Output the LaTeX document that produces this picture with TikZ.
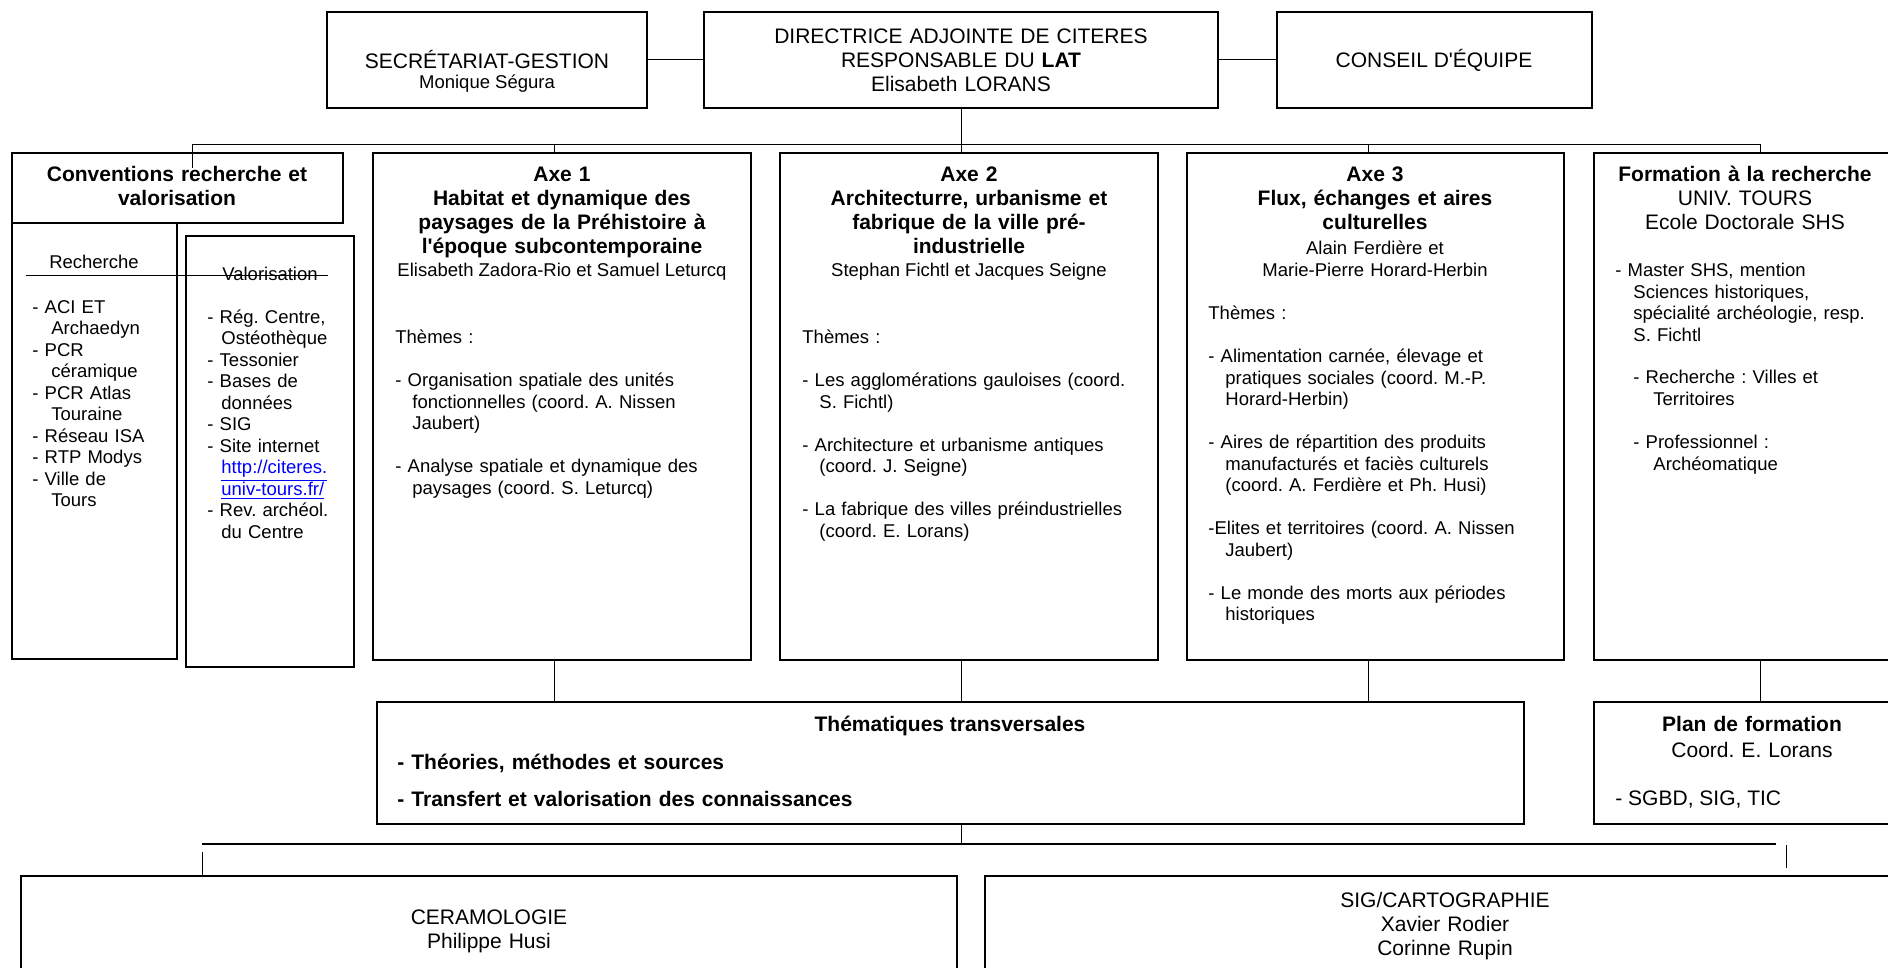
\documentclass[tikz,border=0pt]{standalone}
\usepackage{fontspec}
\setmainfont{Liberation Sans}
\usetikzlibrary{positioning,fit,calc}
\tikzset{
  box/.style={draw, line width=0.75pt, inner sep=0pt},
  link/.style={draw, line width=0.5pt},
  lowbus/.style={draw, line width=1pt},
  big/.style={font=\fontsize{10.5}{12}\selectfont, inner sep=0pt},
  bigb/.style={font=\fontsize{10.5}{12}\selectfont\bfseries, inner sep=0pt},
  small/.style={font=\fontsize{9.25}{10.75}\selectfont, inner sep=0pt},
  lines/.style={text width=200pt, align=left, anchor=base west},
  clines/.style={text width=300pt, align=center, anchor=base},
}
\newcommand{\ind}{\hspace*{8.5pt}}
\newcommand{\apos}{\textquotesingle}
\frenchspacing

\begin{document}
\begin{tikzpicture}[x=0.5pt,y=-0.5pt]
\useasboundingbox (0,0) rectangle (1888,968);
\clip (0,0) rectangle (1888,968);

% direction
\node[box, fit={(327,12) (647,108)}] (sec) {};
\node[box, fit={(704,12) (1218,108)}] (dir) {};
\node[box, fit={(1277,12) (1592,108)}] (conseil) {};
\node[big, anchor=base] (sect) at (487,69) {SECRÉTARIAT-GESTION};
\node[small, anchor=base] (secn) at (487,89) {Monique Ségura};
\node[big, clines] (dirt) at (961,44)
  {DIRECTRICE ADJOINTE DE CITERES\\RESPONSABLE DU \textbf{LAT}\\Elisabeth LORANS};
\node[big, anchor=base] (cont) at (1434,68) {CONSEIL D\apos ÉQUIPE};

% conventions
\node[box, fit={(12,153) (343,223)}] (conv) {};
\node[box, fit={(12,223) (177,659)}] (rech) {};
\node[box, fit={(186,236) (354,667)}] (valo) {};
\node[bigb, clines] (convt) at (177,182) {Conventions recherche et\\valorisation};
\node[small, anchor=base] (recht) at (94,269) {Recherche};
\node[small, anchor=base] (valot) at (270,280) {Valorisation};
\coordinate (strL) at (26,275);
\coordinate (strR) at (328,275);
\draw[link] (strL) -- (strR);
\node[small, lines] (rechl) at (32,313)
  {- ACI ET\\\hspace*{9.5pt}Archaedyn\\- PCR\\\hspace*{9.5pt}céramique\\- PCR Atlas\\\hspace*{9.5pt}Touraine\\- Réseau ISA\\- RTP Modys\\- Ville de\\\hspace*{9.5pt}Tours};
\node[small, lines] (valol) at (207,323)
  {- Rég. Centre,\\\hspace*{7pt}Ostéothèque\\- Tessonier\\- Bases de\\\hspace*{7pt}données\\- SIG\\- Site internet\\\hspace*{7pt}\textcolor{blue}{\underline{http://citeres.}}\\\hspace*{7pt}\textcolor{blue}{\underline{univ-tours.fr/}}\\- Rev. archéol.\\\hspace*{7pt}du Centre};

% axes
\node[box, fit={(373,153) (751,660)}] (axe1) {};
\node[box, fit={(780,153) (1158,660)}] (axe2) {};
\node[box, fit={(1187,153) (1564,660)}] (axe3) {};
\node[box, fit={(1594,153) (1898,660)}] (form) {};

\node[bigb, clines] (axe1t) at (562,182)
  {Axe 1\\Habitat et dynamique des\\paysages de la Préhistoire à\\l\apos époque subcontemporaine};
\node[small, anchor=base] (axe1n) at (562,277) {Elisabeth Zadora-Rio et Samuel Leturcq};
\node[small, lines] (axe1b) at (395,343.5)
  {Thèmes :\\[10.75pt]- Organisation spatiale des unités\\\ind fonctionnelles (coord. A. Nissen\\\ind Jaubert)\\[10.75pt]- Analyse spatiale et dynamique des\\\ind paysages (coord. S. Leturcq)};

\node[bigb, clines] (axe2t) at (969,182)
  {Axe 2\\Architecturre, urbanisme et\\fabrique de la ville pré-\\industrielle};
\node[small, anchor=base] (axe2n) at (969,277) {Stephan Fichtl et Jacques Seigne};
\node[small, lines] (axe2b) at (802,343.5)
  {Thèmes :\\[10.75pt]- Les agglomérations gauloises (coord.\\\ind S. Fichtl)\\[10.75pt]- Architecture et urbanisme antiques\\\ind (coord. J. Seigne)\\[10.75pt]- La fabrique des villes préindustrielles\\\ind (coord. E. Lorans)};

\node[bigb, clines] (axe3t) at (1375,182)
  {Axe 3\\Flux, échanges et aires\\culturelles};
\node[small, clines] (axe3n) at (1375,255) {Alain Ferdière et\\Marie-Pierre Horard-Herbin};
\node[small, lines] (axe3b) at (1208,319.5)
  {Thèmes :\\[10.75pt]- Alimentation carnée, élevage et\\\ind pratiques sociales (coord. M.-P.\\\ind Horard-Herbin)\\[10.75pt]- Aires de répartition des produits\\\ind manufacturés et faciès culturels\\\ind (coord. A. Ferdière et Ph. Husi)\\[10.75pt]-Elites et territoires (coord. A. Nissen\\\ind Jaubert)\\[10.75pt]- Le monde des morts aux périodes\\\ind historiques};

\node[big, clines] (formt) at (1745,182)
  {\textbf{Formation à la recherche}\\UNIV. TOURS\\Ecole Doctorale SHS};
\node[small, lines] (formb) at (1615,276.5)
  {- Master SHS, mention\\\hspace*{9pt}Sciences historiques,\\\hspace*{9pt}spécialité archéologie, resp.\\\hspace*{9pt}S. Fichtl\\[10.75pt]\hspace*{9pt}- Recherche : Villes et\\\hspace*{19pt}Territoires\\[10.75pt]\hspace*{9pt}- Professionnel :\\\hspace*{19pt}Archéomatique};

% transversal
\node[box, fit={(377,702) (1524,824)}] (them) {};
\node[box, fit={(1594,702) (1910,824)}] (plan) {};
\node[bigb, anchor=base] (themt) at (950,731) {Thématiques transversales};
\node[bigb, lines, text width=400pt] (themb) at (397,769)
  {- Théories, méthodes et sources\\[6.5pt]- Transfert et valorisation des connaissances};
\node[big, clines] (plant) at (1752,731) {\textbf{Plan de formation}\\[1pt]Coord. E. Lorans};
\node[big, anchor=base west] (planb) at (1615,805) {- SGBD, SIG, TIC};

% services
\node[box, fit={(21,876) (957,1000)}] (cera) {};
\node[box, fit={(985,876) (1905,1000)}] (sig) {};
\node[big, clines] (cerat) at (489,924) {CERAMOLOGIE\\Philippe Husi};
\node[big, clines] (sigt) at (1445,907) {SIG/CARTOGRAPHIE\\Xavier Rodier\\Corinne Rupin};

% links
\draw[link] (sec) -- (dir);
\draw[link] (dir) -- (conseil);
\coordinate (busC) at (961,145);
\coordinate (bl) at (192,145);
\coordinate (convIn) at (192,168);
\coordinate (b1) at (554,145);
\coordinate (b3) at (1368,145);
\coordinate (br) at (1760,145);
\draw[link] (dir.south -| busC) -- (busC |- axe2.north);
\draw[link] (convIn) -- (bl) -- (br) -- (br |- form.north);
\draw[link] (b1) -- (b1 |- axe1.north);
\draw[link] (b3) -- (b3 |- axe3.north);
\draw[link] (b1 |- axe1.south) -- (b1 |- them.north);
\draw[link] (busC |- axe2.south) -- (busC |- them.north);
\draw[link] (b3 |- axe3.south) -- (b3 |- them.north);
\draw[link] (br |- form.south) -- (br |- plan.north);

\coordinate (lb) at (961,844);
\coordinate (lbL) at (202,844);
\coordinate (lbR) at (1776,844);
\coordinate (ceraIn) at (202,852);
\coordinate (sigIn) at (1786,845);
\draw[link] (busC |- them.south) -- (lb);
\draw[lowbus] (lbL) -- (lbR);
\draw[link] (ceraIn) -- (ceraIn |- cera.north);
\draw[link] (sigIn) -- ++(0,23);
\end{tikzpicture}
\end{document}
